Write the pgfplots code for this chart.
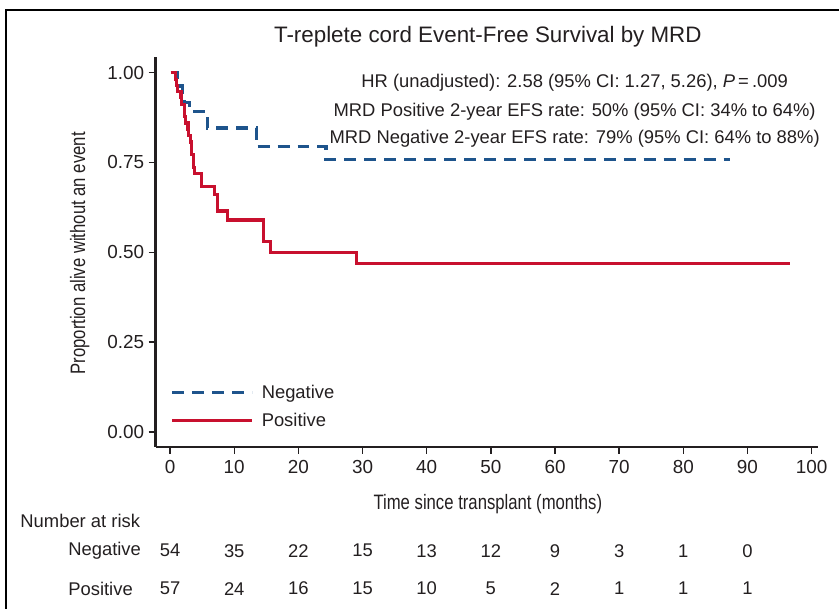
\documentclass[border=0pt]{standalone}
\usepackage{pgfplots}
\pgfplotsset{compat=1.18}
\usepackage{fontspec}
\setmainfont{Liberation Sans}
\newfontfamily\condfont[FakeStretch=0.8]{Liberation Sans}
\definecolor{negblue}{RGB}{30,84,140}
\definecolor{posred}{RGB}{200,16,46}
\definecolor{txt}{RGB}{35,31,32}
\newcommand{\fs}{\fontsize{18.5}{22}\selectfont}
\begin{document}
\begin{tikzpicture}[x=1bp,y=1bp]
\path (0,0) rectangle (840,610);
\draw[line width=2bp] (6,0) -- (6,600) -- (841,600);
\begin{axis}[
  at={(156bp,162bp)}, anchor=south west,
  scale only axis, width=664bp, height=391bp,
  xmin=-2.25, xmax=101, ymin=-0.0417, ymax=1.044,
  axis x line*=bottom, axis y line*=left,
  axis line style={line width=2.4bp, -, txt},
  xtick={0,10,...,100}, ytick={0,0.25,0.5,0.75,1},
  yticklabel style={xshift=-1bp, /pgf/number format/fixed, /pgf/number format/fixed zerofill, /pgf/number format/precision=2},
  /pgf/number format/assume math mode=true,
  tick align=outside, major tick length=7bp,
  tick style={line width=1.4bp, txt},
  ticklabel style={font=\fontsize{19}{22}\selectfont, text=txt},
  xticklabel style={yshift=-3bp},
  clip=false,
  legend style={draw=none, fill=none, at={(rel axis cs:0,0)}, anchor=south west,
    xshift=12bp, yshift=15bp, font=\fs, text=txt, row sep=9bp},
  legend cell align=left,
  legend image code/.code={\draw[#1] (0bp,0bp) -- (80bp,0bp); \path (86bp,0bp);},
]
\addplot[negblue, line width=3.2bp, dash pattern=on 12bp off 8bp] coordinates {
(0.3,1.0) (1.2,1.0) (1.2,0.981) (1.6,0.981) (1.6,0.963) (1.9,0.963) (1.9,0.944)
(2.0,0.944) (2.0,0.926) (2.2,0.926) (2.2,0.916) (3.0,0.916) (3.0,0.893)
(5.8,0.893) (5.8,0.846) (13.5,0.846) (13.5,0.794) (24.3,0.794) (24.3,0.758) (87.2,0.758)
};
\addlegendentry{Negative}
\addplot[posred, line width=3.2bp] coordinates {
(0.1,1.0) (0.8,1.0) (0.8,0.982) (0.95,0.982) (0.95,0.965) (1.1,0.965) (1.1,0.947)
(1.7,0.947) (1.7,0.93) (1.8,0.93) (1.8,0.912) (2.2,0.912) (2.2,0.895) (2.3,0.895)
(2.3,0.877) (2.35,0.877) (2.35,0.86) (2.8,0.86) (2.8,0.842) (2.85,0.842) (2.85,0.825)
(3.2,0.825) (3.2,0.807) (3.3,0.807) (3.3,0.79) (3.35,0.79) (3.35,0.772) (3.6,0.772)
(3.6,0.754) (3.7,0.754) (3.7,0.737) (3.75,0.737) (3.75,0.72) (4.85,0.72) (4.85,0.702)
(4.95,0.702) (4.95,0.684) (6.9,0.684) (6.9,0.661) (7.45,0.661) (7.45,0.615) (8.9,0.615)
(8.9,0.59) (14.6,0.59) (14.6,0.531) (15.7,0.531) (15.7,0.50) (29.1,0.50) (29.1,0.469) (96.7,0.469)
};
\addlegendentry{Positive}
\end{axis}
% title
\node[font=\fontsize{22.5}{26}\selectfont, text=txt] at (489,573) {T-replete cord Event-Free Survival by MRD};
% annotations
\node[font=\fs, text=txt] at (576,527) {HR (unadjusted): 2.58 (95\% CI: 1.27, 5.26), \textit{P}\,=\,.009};
\node[font=\fs, text=txt] at (576,498) {MRD Positive 2-year EFS rate: 50\% (95\% CI: 34\% to 64\%)};
\node[font=\fs, text=txt] at (576,471) {MRD Negative 2-year EFS rate: 79\% (95\% CI: 64\% to 88\%)};
% axis labels
\node[font=\condfont\fontsize{21}{24}\selectfont, text=txt] at (489,105) {Time since transplant (months)};
\node[font=\condfont\fontsize{21}{24}\selectfont, text=txt, rotate=90] at (80,356) {Proportion alive without an event};
% risk table
\node[font=\fs, text=txt, anchor=west] at (17,88) {Number at risk};
\node[font=\fs, text=txt, anchor=west] at (65,58) {Negative};
\node[font=\fs, text=txt, anchor=west] at (65,20) {Positive};
\foreach \v [count=\i from 0] in {54,35,22,15,13,12,9,3,1,0}
  \node[font=\fs, text=txt] at (170.5+64.3*\i,58) {\v};
\foreach \v [count=\i from 0] in {57,24,16,15,10,5,2,1,1,1}
  \node[font=\fs, text=txt] at (170.5+64.3*\i,20) {\v};
\end{tikzpicture}
\end{document}
